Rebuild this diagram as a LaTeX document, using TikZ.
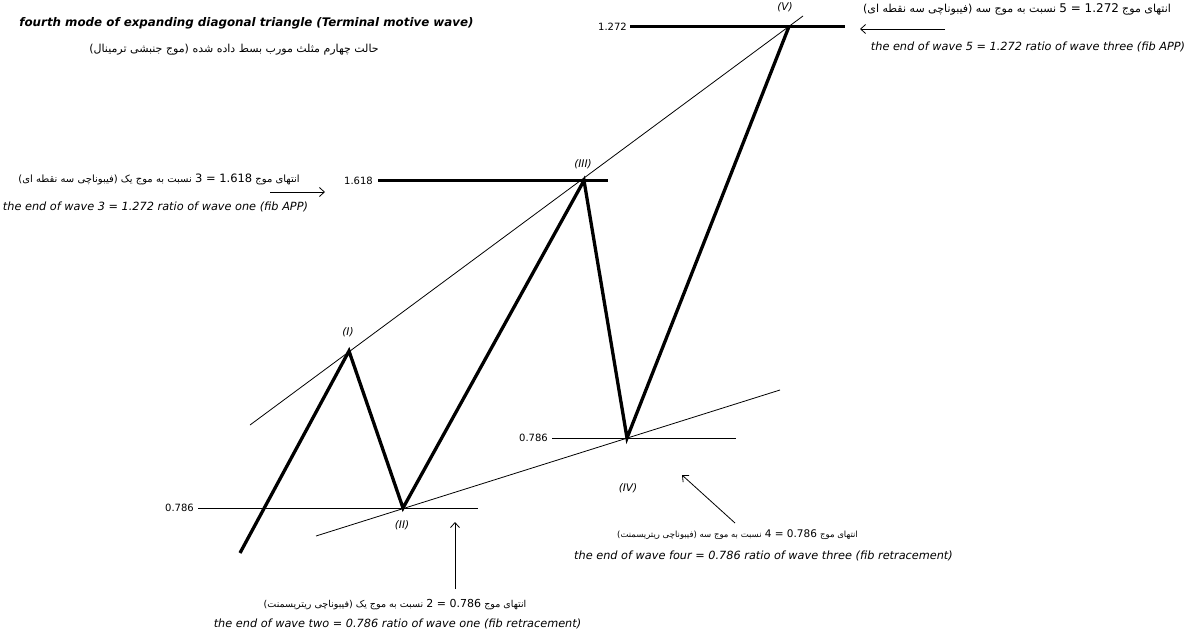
\documentclass[tikz,border=0pt]{standalone}
\usepackage{fontspec}
\setmainfont{DejaVu Sans}
\newfontfamily\fafont[Script=Arabic]{DejaVu Sans}
\TeXXeTstate=1
\usetikzlibrary{arrows.meta}
\newcommand{\dig}[2]{{\fontsize{#1}{#1}\selectfont #2}}
\begin{document}
\begin{tikzpicture}[x=1pt,y=-1pt,
  wave/.style={line width=3.3pt, line join=miter},
  trend/.style={line width=0.8pt},
  fibthick/.style={line width=2.2pt},
  fibthin/.style={line width=0.9pt},
  arr/.style={-{Straight Barb[length=5pt,width=9pt]}, line width=0.8pt},
  en/.style={font=\fontsize{11.3}{13}\selectfont\itshape, inner sep=0pt},
  ent/.style={font=\fontsize{11.85}{13}\selectfont\bfseries\itshape, inner sep=0pt},
  fa/.style={inner sep=0pt},
  num/.style={font=\fontsize{10}{12}\selectfont, inner sep=0pt, anchor=east},
  wl/.style={font=\fontsize{10.5}{12}\selectfont\itshape, inner sep=0pt}]
\useasboundingbox[fill=white] (0,0) rectangle (1192,632);

% wave points
\coordinate (s)  at (240,553);
\coordinate (p1) at (349,351);
\coordinate (p2) at (403,508);
\coordinate (p3) at (584,180.5);
\coordinate (p4) at (627,438);
\coordinate (p5) at (789,26.5);

% trend lines
\coordinate (ua) at (250,425);
\coordinate (ub) at (803,16);
\coordinate (la) at (316,536);
\coordinate (lb) at (780,390);
\draw[trend] (ua) -- (ub);
\draw[trend] (la) -- (lb);

% fib levels
\node[num] (n1) at (194,508) {0.786};
\coordinate (f1b) at (478,508);
\draw[fibthin] ([xshift=4pt]n1.east) -- (f1b);

\node[num] (n2) at (548,438) {0.786};
\coordinate (f2b) at (736,438);
\draw[fibthin] ([xshift=4pt]n2.east) -- (f2b);

\node[num] (n3) at (373,180.5) {1.618};
\coordinate (f3b) at (608,180.5);
\draw[fibthick] ([xshift=5pt]n3.east) -- (f3b);

\node[num] (n4) at (627,26.5) {1.272};
\coordinate (f4b) at (845,26.5);
\draw[fibthick] ([xshift=3pt]n4.east) -- (f4b);

% wave
\draw[wave] (s) -- (p1) -- (p2) -- (p3) -- (p4) -- (p5);

% wave labels
\node[wl] (l1) at (348,332) {(I)};
\node[wl] (l2) at (402,525) {(II)};
\node[wl] (l3) at (583,164) {(III)};
\node[wl] (l4) at (628,488) {(IV)};
\node[wl] (l5) at (785,7) {(V)};

% arrows
\coordinate (a1s) at (270,192); \coordinate (a1e) at (325,192);
\draw[arr] (a1s) -- (a1e);
\coordinate (a2s) at (945,29); \coordinate (a2e) at (860,29);
\draw[arr] (a2s) -- (a2e);
\coordinate (a3s) at (455,589); \coordinate (a3e) at (455,522);
\draw[arr] (a3s) -- (a3e);
\coordinate (a4s) at (735,523); \coordinate (a4e) at (682,475);
\draw[arr] (a4s) -- (a4e);

% texts
\node[ent] (title) at (246.5,23) {fourth mode of expanding diagonal triangle (Terminal motive wave)};
\node[fa] (titlefa) at (234,50) {{\fontsize{11}{11}\fafont\beginR حالت چهارم مثلث مورب بسط داده شده (موج جنبشی ترمینال)\endR}};

\node[fa] (t5fa) at (1017,9) {{\fontsize{11}{11}\fafont\beginR نسبت به موج سه (فیبوناچی سه نقطه ای)\endR} \dig{12}{5 = 1.272} {\fontsize{11}{11}\fafont\beginR انتهای موج\endR}};
\node[en] (t5en) at (1028,47) {the end of wave 5 = 1.272 ratio of wave three (fib APP)};

\node[fa] (t3fa) at (159,179) {{\fontsize{10}{10}\fafont\beginR نسبت به موج یک (فیبوناچی سه نقطه ای)\endR} \dig{11.5}{3 = 1.618} {\fontsize{10}{10}\fafont\beginR انتهای موج\endR}};
\node[en] (t3en) at (155.5,207) {the end of wave 3 = 1.272 ratio of wave one (fib APP)};

\node[fa] (t2fa) at (395,605) {{\fontsize{9.5}{9.5}\fafont\beginR نسبت به موج یک (فیبوناچی ریتریسمنت)\endR} \dig{11}{2 = 0.786} {\fontsize{9.5}{9.5}\fafont\beginR انتهای موج\endR}};
\node[en] (t2en) at (397.5,624) {the end of wave two = 0.786 ratio of wave one (fib retracement)};

\node[fa] (t4fa) at (737.5,535) {{\fontsize{8.5}{8.5}\fafont\beginR نسبت به موج سه (فیبوناچی ریتریسمنت)\endR} \dig{10.5}{4 = 0.786} {\fontsize{8.5}{8.5}\fafont\beginR انتهای موج\endR}};
\node[en] (t4en) at (763.5,556) {the end of wave four = 0.786 ratio of wave three (fib retracement)};
\end{tikzpicture}
\end{document}
